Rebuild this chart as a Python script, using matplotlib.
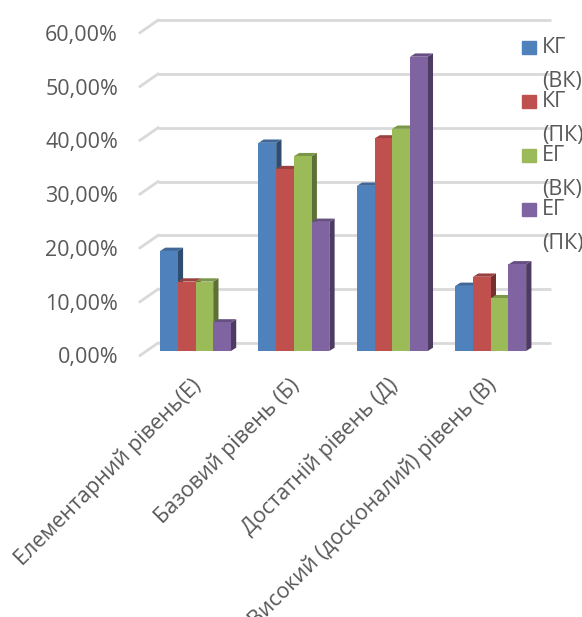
import numpy as np
import matplotlib
matplotlib.use("Agg")
import matplotlib.pyplot as plt
from matplotlib.patches import Polygon, Rectangle
from matplotlib.colors import to_rgb
from matplotlib.transforms import ScaledTranslation

plt.rcParams['font.family'] = ['Open Sans', 'DejaVu Sans']

categories = ["Елементарний рівень(Е)", "Базовий рівень (Б)",
              "Достатній рівень (Д)", "Високий (досконалий) рівень (В)"]
series = ["КГ (ВК)", "КГ (ПК)", "ЕГ (ВК)", "ЕГ (ПК)"]
kg_vk = [18.6, 38.7, 30.7, 12.1]
kg_pk = [12.9, 33.8, 39.5, 13.8]
eg_vk = [12.9, 36.2, 41.3, 9.8]
eg_pk = [5.3, 24.0, 54.7, 16.1]
values = [kg_vk, kg_pk, eg_vk, eg_pk]
colors = ["#4F81BD", "#C0504D", "#9BBB59", "#8064A2"]
yticks = [0, 10, 20, 30, 40, 50, 60]

W, H = 582, 617
fig = plt.figure(figsize=(W / 100, H / 100), dpi=100)
ax_px = (140, 351, 405, 322.8)  # left, bottom (from top), width, height in px
ax = fig.add_axes([ax_px[0] / W, (H - ax_px[1]) / H, ax_px[2] / W, ax_px[3] / H])

xmin = -55.5 / 98.4
xmax = xmin + ax_px[2] / 98.4
ax.set_xlim(xmin, xmax)
ax.set_ylim(0, 60)
ux = (xmax - xmin) / ax_px[2]   # data units per pixel
uy = 60 / ax_px[3]

grid_c = "#D9D9D9"
text_c = "#595959"

# back wall gridlines and side wall diagonals
for v in yticks:
    xb0 = xmin + 18 * ux
    xb1 = xmin + 411 * ux
    yb = v + 8 * uy
    ax.plot([xb0, xb1], [yb, yb], color=grid_c, lw=2, zorder=1, clip_on=False,
            solid_capstyle="butt")
    ax.plot([xmin, xb0], [v - 4.5 * uy, yb], color=grid_c, lw=2, zorder=1,
            clip_on=False)

# 3D-looking clustered bars
x = np.arange(len(categories))
bw = 0.18
dx, dy = 5.3 * ux, 3.3 * uy


def shade(c, f):
    r, g, b = to_rgb(c)
    return (r * f, g * f, b * f)


for k, (vals, c) in enumerate(zip(values, colors)):
    xs = x + (k - 1.5) * bw
    ax.bar(xs, vals, bw, color=c, zorder=3 + 2 * k, clip_on=False)
    for xc, h in zip(xs, vals):
        x0, x1 = xc - bw / 2, xc + bw / 2
        side = Polygon([(x1, 0), (x1 + dx, dy), (x1 + dx, h + dy), (x1, h)],
                       closed=True, color=shade(c, 0.6), zorder=2 + 2 * k,
                       clip_on=False, lw=0)
        top = Polygon([(x0, h), (x1, h), (x1 + dx, h + dy), (x0 + dx, h + dy)],
                      closed=True, color=shade(c, 0.8), zorder=2 + 2 * k,
                      clip_on=False, lw=0)
        ax.add_patch(side)
        ax.add_patch(top)

ax.tick_params(axis="y", length=0, pad=15.8)
ax.tick_params(axis="x", length=0, pad=17)
ax.set_yticks(yticks)
ax.set_yticklabels([f"{v:.2f}%".replace(".", ",") for v in yticks],
                   fontsize=15.5, color=text_c)
ax.set_xticks(x)
ax.set_xticklabels(categories, rotation=45, ha="right", rotation_mode="anchor",
                   fontsize=15.5, color=text_c)
for lab in ax.get_yticklabels():
    lab.set_transform(lab.get_transform()
                      + ScaledTranslation(0, -4.5 / 100, fig.dpi_scale_trans))
for lab in ax.get_xticklabels():
    lab.set_transform(lab.get_transform()
                      + ScaledTranslation(-5 / 100, 0, fig.dpi_scale_trans))
for s in ax.spines.values():
    s.set_visible(False)

# legend at right, names wrapped onto two lines
for k, (name, c) in enumerate(zip(series, colors)):
    yc = 47.3 + 54 * k
    fig.add_artist(Rectangle((522 / W, 1 - (yc + 6.5) / H), 13.5 / W, 13 / H,
                             transform=fig.transFigure, color=c))
    first, second = name.split(" ")
    fig.text(542 / W, 1 - yc / H, first, fontsize=15.5, color=text_c,
             va="center", ha="left")
    fig.text(542 / W, 1 - (yc + 34) / H, second, fontsize=15.5, color=text_c,
             va="center", ha="left")

fig.savefig("out.png", dpi=100)
